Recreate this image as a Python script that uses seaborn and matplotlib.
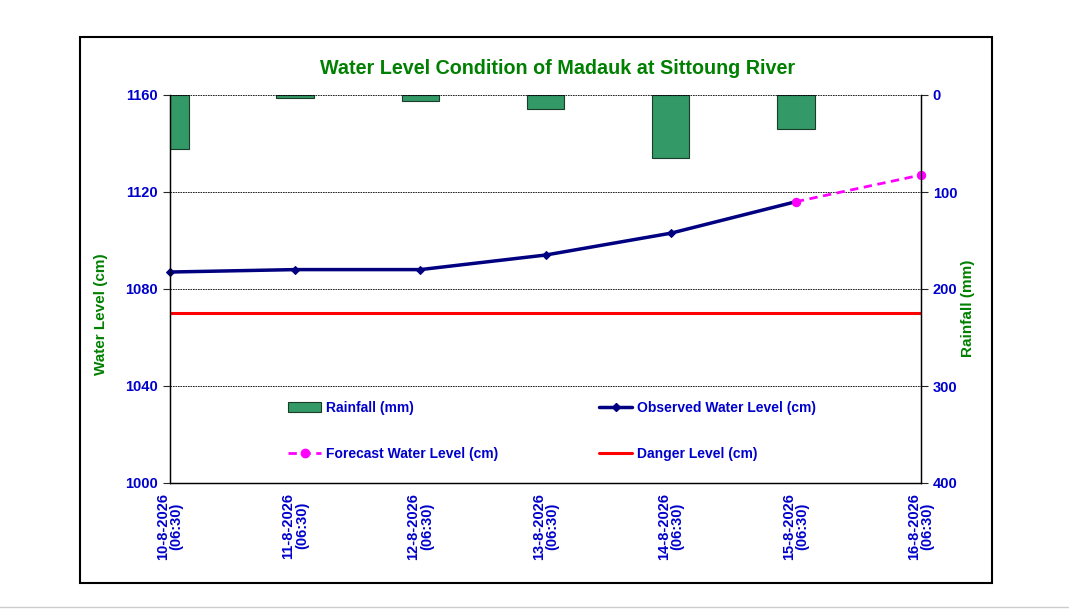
import numpy as np
import pandas as pd
import matplotlib.pyplot as plt
import seaborn as sns
from matplotlib.patches import Rectangle
from matplotlib.lines import Line2D

dates = ["10-8-2026\n(06:30)", "11-8-2026\n(06:30)", "12-8-2026\n(06:30)",
         "13-8-2026\n(06:30)", "14-8-2026\n(06:30)", "15-8-2026\n(06:30)",
         "16-8-2026\n(06:30)"]
rainfall = [56, 3, 6, 14, 65, 35, 0]
observed = [1087, 1088, 1088, 1094, 1103, 1116, np.nan]
forecast = [np.nan, np.nan, np.nan, np.nan, np.nan, 1116, 1127]
danger = [1070, 1070, 1070, 1070, 1070, 1070, 1070]

sns.set_style("white")
plt.rcParams["font.family"] = ["Liberation Sans", "DejaVu Sans"]

BLUE = "#0000CC"
GREEN = "#008000"

df = pd.DataFrame({"pos": np.arange(len(dates)), "rain": rainfall,
                   "obs": observed, "fc": forecast, "danger": danger})

fig = plt.figure(figsize=(10.69, 6.12), dpi=100)
ax = fig.add_axes([170 / 1069, 1 - 483 / 612, 751 / 1069, 388 / 612])
ax2 = ax.twinx()

# rainfall bars hang from the top of the right axis
sns.barplot(data=df, x="pos", y="rain", ax=ax2, native_scale=True, orient="x",
            width=0.3, color="#339966", saturation=1, edgecolor="#1a3d2a",
            linewidth=0.8)
for p in ax2.patches:
    if p.get_height() == 0:
        p.set_linewidth(0)
ax2.set_ylim(400, 0)
ax2.set_facecolor("#CCFFFF")

ax.set_zorder(ax2.get_zorder() + 1)
ax.patch.set_visible(False)

sns.lineplot(data=df, x="pos", y="danger", ax=ax, color="#FF0000", linewidth=2.2)
sns.lineplot(data=df.dropna(subset=["obs"]), x="pos", y="obs", ax=ax,
             color="#000080", linewidth=2.5, marker="D", markersize=4.5,
             markeredgecolor="#000080", clip_on=False)
sns.lineplot(data=df.dropna(subset=["fc"]), x="pos", y="fc", ax=ax,
             color="#FF00FF", linewidth=2, linestyle=(0, (3, 2)), marker="o",
             markersize=6, markeredgecolor="#FF00FF", clip_on=False)

ax.set_xlim(0, len(dates) - 1)
ax.set_ylim(1000, 1160)
ax.set_yticks([1000, 1040, 1080, 1120, 1160])
ax2.set_yticks([0, 100, 200, 300, 400])
ax.yaxis.grid(True, color="black", linestyle=(0, (2, 1)), linewidth=0.6)
ax.set_xticks(df["pos"])
ax.set_xticklabels(dates, rotation=90, fontsize=10.5, fontweight="bold", color=BLUE,
                   linespacing=0.95)
for a in (ax, ax2):
    a.tick_params(axis="y", labelsize=10.5, labelcolor=BLUE, length=5, direction="out")
    for lab in a.get_yticklabels():
        lab.set_fontweight("bold")
    for s in a.spines.values():
        s.set_linewidth(0.9)
        s.set_color("black")
ax.tick_params(axis="x", length=5, direction="out", pad=2)
ax.tick_params(axis="y", left=True)
ax2.tick_params(axis="y", right=True)
ax2.spines["top"].set_visible(False)
ax.spines["top"].set_visible(False)

ax.set_xlabel("")
ax.set_ylabel("Water Level (cm)", color=GREEN, fontsize=11, fontweight="bold")
ax.yaxis.set_label_coords((108 - 170) / 751, (483 - 314) / 388)
ax2.set_ylabel("Rainfall (mm)", color=GREEN, fontsize=11, fontweight="bold")
ax2.yaxis.set_label_coords((961 - 170) / 751, (483 - 308) / 388)
ax2.set_xlabel("")

fig.text(558 / 1069, 1 - 68 / 612, "Water Level Condition of Madauk at Sittoung River",
         ha="center", va="center", color=GREEN, fontsize=14.2, fontweight="bold")

handles = [
    Rectangle((0, 0), 1, 1, facecolor="#339966", edgecolor="#1a3d2a", linewidth=0.8),
    Line2D([], [], color="#FF00FF", linewidth=2, linestyle=(0, (3, 2)), marker="o",
           markersize=6),
    Line2D([], [], color="#000080", linewidth=2.5, marker="D", markersize=4.5),
    Line2D([], [], color="#FF0000", linewidth=2.2),
]
labels = ["Rainfall (mm)", "Forecast Water Level (cm)",
          "Observed Water Level (cm)", "Danger Level (cm)"]
leg = ax.legend(handles, labels, ncol=2, frameon=False, loc="upper left",
                bbox_to_anchor=((288 - 170) / 751, (483 - 401) / 388),
                borderaxespad=0, borderpad=0, handlelength=2.4, handletextpad=0.3,
                columnspacing=7.3, labelspacing=2.3, fontsize=10)
for t in leg.get_texts():
    t.set_color(BLUE)
    t.set_fontweight("bold")

fig.patches.append(Rectangle((80 / 1069, 1 - 583 / 612), 912 / 1069, 546 / 612,
                             transform=fig.transFigure, fill=False,
                             edgecolor="black", linewidth=1.5))
fig.lines.append(Line2D([0, 1], [1 - 607 / 612, 1 - 607 / 612],
                        transform=fig.transFigure, color="#cccccc", linewidth=1))

fig.savefig("out.png", dpi=100)
